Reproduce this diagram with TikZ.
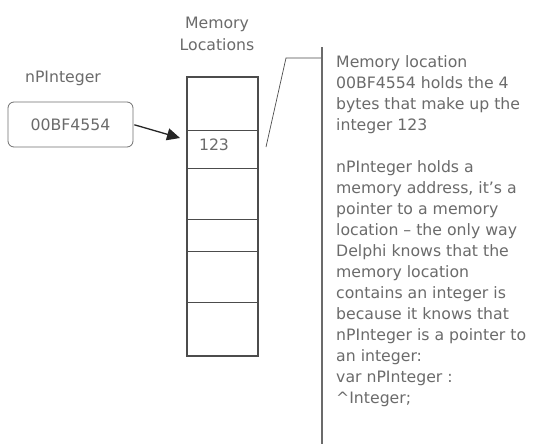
\documentclass[tikz,border=0pt]{standalone}
\usepackage{fontspec}
\setmainfont{DejaVu Sans}
\usetikzlibrary{arrows.meta}
\definecolor{txt}{gray}{0.42}
\definecolor{ln}{gray}{0.3}
\begin{document}
\begin{tikzpicture}[x=1pt,y=-1pt,
  every node/.style={font=\fontsize{15.7}{21}\selectfont, text=txt},
  cell/.style={draw=ln, line width=0.8pt, minimum width=70pt, inner sep=0pt, anchor=north west},
  ptrbox/.style={draw=ln!80, line width=0.8pt, rounded corners=6pt, minimum width=125pt, minimum height=45pt, inner sep=0pt},
  conn/.style={draw=ln, line width=0.7pt}
]
\useasboundingbox (0,0) rectangle (534,444);
\fill[white] (0,0) rectangle (534,444);
% heading
\node[align=center, font=\fontsize{15.7}{22}\selectfont] (head) at (217,34) {Memory\\Locations};
% memory cells
\node[cell, minimum height=53pt] (c1) at (187,77) {};
\node[cell, minimum height=38pt] (c2) at (187,130) {};
\node[cell, minimum height=51pt] (c3) at (187,168) {};
\node[cell, minimum height=32pt] (c4) at (187,219) {};
\node[cell, minimum height=51pt] (c5) at (187,251) {};
\node[cell, minimum height=53pt] (c6) at (187,302) {};
\draw[ln, line width=1.6pt] (c1.north west) rectangle (c6.south east);
\node (val) at (214,145) {123};
% pointer
\node (ptrlbl) at (63,78) {nPInteger};
\node[ptrbox] (ptr) at (70.5,124.5) {00BF4554};
\draw[black!85, line width=1.3pt, shorten <=1pt, -{Triangle[length=13pt,width=12pt]}] (ptr.east) -- ([shift={(-7,8)}]c2.north west);
% callout
\coordinate (cb) at (266,147);
\coordinate (ck) at (286,58);
\coordinate (bartop) at (322,47);
\coordinate (barbot) at (322,444);
\draw[conn] (cb) -- (ck) -- (ck -| bartop);
\draw[draw=txt, line width=1.5pt] (bartop) -- (barbot);
% note text
\node[anchor=north west, inner sep=0pt, align=left] (note) at (336,55) {Memory location\\00BF4554 holds the 4\\bytes that make up the\\integer 123\\[21pt]nPInteger holds a\\memory address, it's a\\pointer to a memory\\location -- the only way\\Delphi knows that the\\memory location\\contains an integer is\\because it knows that\\nPInteger is a pointer to\\an integer:\\var nPInteger :\\\textasciicircum Integer;};
\end{tikzpicture}
\end{document}
